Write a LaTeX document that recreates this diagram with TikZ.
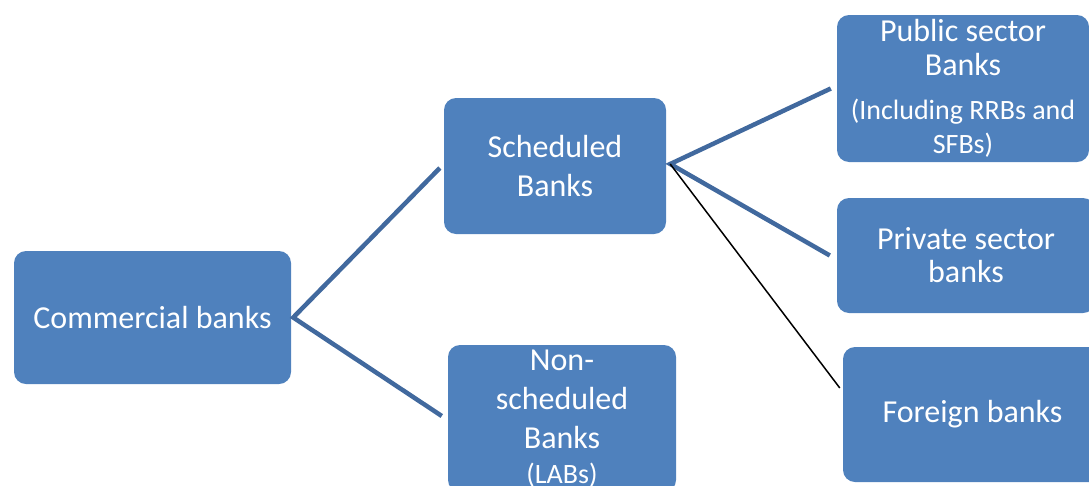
\documentclass[tikz,border=0pt]{standalone}
\usepackage{fontspec}
\setmainfont{Carlito}
\definecolor{boxblue}{HTML}{4F81BD}
\definecolor{lineblue}{HTML}{41699E}
\tikzset{
  bankbox/.style={draw=none, fill=boxblue, rounded corners=12pt, inner sep=0pt,
    text=white, align=center, font=\fontsize{32}{39}\selectfont},
  branch/.style={draw=lineblue, line width=4.5pt},
  thinbranch/.style={draw=black, line width=1.5pt},
}
\begin{document}
\begin{tikzpicture}[x=1pt,y=-1pt]
\useasboundingbox (0,0) rectangle (1089,485);
\clip (0,0) rectangle (1089,485);

\node[bankbox, minimum width=277pt, minimum height=133pt] (cb) at (152.5,317.5) {Commercial banks};
\node[bankbox, minimum width=222pt, minimum height=136pt] (sb) at (555,166) {Scheduled\\Banks};
\node[bankbox, minimum width=228pt, minimum height=147pt] (nsb) at (562,418.5)
  {Non-\\scheduled\\Banks\\[-4pt]{\fontsize{28}{33}\selectfont (LABs)}};
\node[bankbox, minimum width=252pt, minimum height=147pt, font=\fontsize{32}{34}\selectfont] (psb) at (963,88.5)
  {Public sector\\Banks\\[10pt]{\fontsize{28}{33}\selectfont (Including RRBs and}\\{\fontsize{28}{33}\selectfont SFBs)}};
\node[bankbox, minimum width=258pt, minimum height=115pt, font=\fontsize{32}{33}\selectfont] (pvb) at (966,255.5) {Private sector\\banks};
\node[bankbox, minimum width=259pt, minimum height=135pt] (fb) at (972.5,414.5) {Foreign banks};

\coordinate (c0) at ([xshift=2pt]cb.east);
\coordinate (c1) at ([xshift=-4pt,yshift=-2pt]sb.west);
\coordinate (c2) at ([xshift=-6pt,yshift=2.5pt]nsb.west);
\coordinate (s0) at ([xshift=4pt,yshift=2pt]sb.east);
\coordinate (s1) at ([xshift=-6pt]psb.west);
\coordinate (s2) at ([xshift=-7pt]pvb.west);
\coordinate (s3) at ([xshift=-3pt,yshift=26.5pt]fb.west);

\draw[branch] (c1) -- (c0) -- (c2);
\draw[branch] (s1) -- (s0) -- (s2);
\draw[thinbranch] (s0) -- (s3);
\end{tikzpicture}
\end{document}
